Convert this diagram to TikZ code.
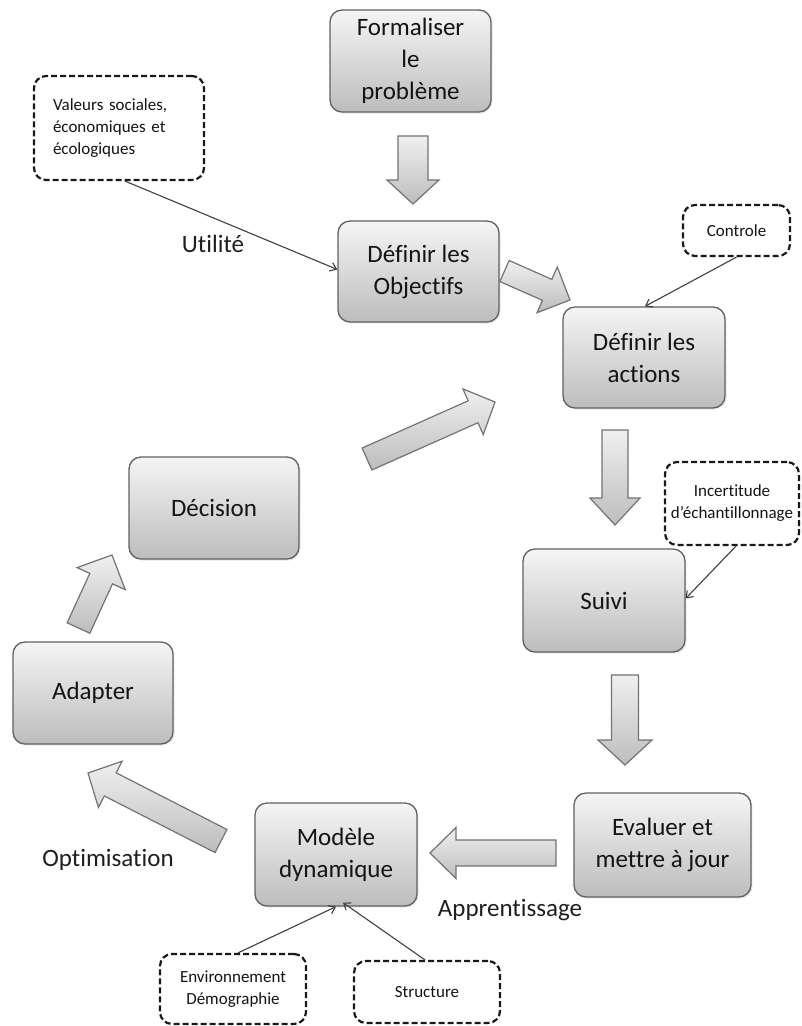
\documentclass[tikz,border=0pt]{standalone}
\usepackage{fontspec}
\setmainfont{Carlito}[Ligatures={TeX,NoCommon}]
\usetikzlibrary{calc,arrows.meta,shadows}
\newcommand\blockarr[5]{%
  \coordinate (bn) at ($(#2)!#5pt!(#1)$);
  \path[barrow] ($(#1)!#3pt!90:(#2)$) -- ($(bn)!#3pt!90:(#2)$) -- ($(bn)!#4pt!90:(#2)$) -- (#2)
     -- ($(bn)!#4pt!-90:(#2)$) -- ($(bn)!#3pt!-90:(#2)$) -- ($(#1)!#3pt!-90:(#2)$) -- cycle;}
\begin{document}
\begin{tikzpicture}[x=1pt,y=-1pt,
  box/.style={draw=black!62, line width=1.3pt, rounded corners=12pt,
    top color=black!4, bottom color=black!26, align=center,
    font=\fontsize{25}{32}\selectfont, text=black!92, inner sep=0pt,
    drop shadow={opacity=0.18, shadow xshift=1.5pt, shadow yshift=-1.5pt}},
  dbox/.style={draw=black!90, line width=2.2pt, dash pattern=on 6pt off 3pt,
    rounded corners=12pt, fill=white, align=center,
    font=\fontsize{17}{22}\selectfont, text=black!92, inner sep=0pt},
  lbl/.style={font=\fontsize{25}{30}\selectfont, text=black!88, inner sep=0pt},
  conn/.style={draw=black!75, line width=1.1pt, -{Straight Barb[length=6pt,width=9pt]}},
  barrow/.style={draw=black!55, line width=1.2pt, line join=miter,
    top color=black!6, bottom color=black!26}]
\useasboundingbox (0,0) rectangle (801,1026);
\fill[white] (0,0) rectangle (801,1026);

% main boxes
\node[box, minimum width=161pt, minimum height=102pt] (form)  at (410.5,61)  {Formaliser\\le\\problème};
\node[box, minimum width=161pt, minimum height=101pt] (obj)   at (418.5,271.5) {Définir les\\Objectifs};
\node[box, minimum width=162pt, minimum height=101pt] (act)   at (644,357.5) {Définir les\\actions};
\node[box, minimum width=162pt, minimum height=103pt] (suivi) at (604,600.5) {Suivi};
\node[box, minimum width=177pt, minimum height=104pt] (eval)  at (662.5,845) {Evaluer et\\mettre à jour};
\node[box, minimum width=162pt, minimum height=103pt] (mod)   at (336,854.5) {Modèle\\dynamique};
\node[box, minimum width=160pt, minimum height=102pt] (adapt) at (93,693)    {Adapter};
\node[box, minimum width=170pt, minimum height=102pt] (dec)   at (214,508)   {Décision};

% dashed boxes
\node[dbox, align=left, text width=132pt, inner xsep=19pt, minimum height=104pt] (val) at (119,128)
  {Valeurs sociales,\\économiques et\\écologiques};
\node[dbox, minimum width=107pt, minimum height=51pt] (ctrl) at (736.5,230.5) {Controle};
\node[dbox, minimum width=134pt, minimum height=83pt] (inc) at (732,503.5) {Incertitude\\d'échantillonnage};
\node[dbox, minimum width=146pt, minimum height=70pt] (env) at (233,989) {Environnement\\Démographie};
\node[dbox, minimum width=146pt, minimum height=62pt] (struct) at (427,992) {Structure};

% labels
\node[lbl] (lutil) at (213,244) {Utilité};
\node[lbl] (lopt)  at (108,860) {Optimisation};
\node[lbl] (lapp)  at (510,910) {Apprentissage};

% thin connectors
\draw[conn] ([xshift=6pt]val.south) -- ([yshift=2pt]obj.west);
\draw[conn] (ctrl.south) -- ([xshift=1pt]act.north);
\draw[conn] ([xshift=4pt]inc.south) -- ([yshift=2pt]suivi.east);
\draw[conn] ([xshift=5pt]env.north) -- (mod.south);
\draw[conn] ([xshift=-2pt]struct.north) -- ([xshift=7pt,yshift=4pt]mod.south);

% block arrows
\coordinate (b1t) at (413,136);   \coordinate (b1h) at (413,204);
\coordinate (b2t) at (504.5,271); \coordinate (b2h) at (570,300);
\coordinate (b3t) at (615,430);   \coordinate (b3h) at (615,525);
\coordinate (b4t) at (625,675);   \coordinate (b4h) at (625,765);
\coordinate (b5t) at (556,853);   \coordinate (b5h) at (430,853);
\coordinate (b6t) at (221,841);   \coordinate (b6h) at (88,773);
\coordinate (b7t) at (78.5,628);  \coordinate (b7h) at (112,555);
\coordinate (b8t) at (367,459);   \coordinate (b8h) at (495,402);
\blockarr{b1t}{b1h}{15}{26}{24}
\blockarr{b2t}{b2h}{11.5}{25}{25}
\blockarr{b3t}{b3h}{13}{25}{27}
\blockarr{b4t}{b4h}{13.5}{27}{25}
\blockarr{b5t}{b5h}{13}{25.5}{26}
\blockarr{b6t}{b6h}{13}{26}{25}
\blockarr{b7t}{b7h}{12.5}{26.5}{26}
\blockarr{b8t}{b8h}{12}{25}{24}
\end{tikzpicture}
\end{document}
